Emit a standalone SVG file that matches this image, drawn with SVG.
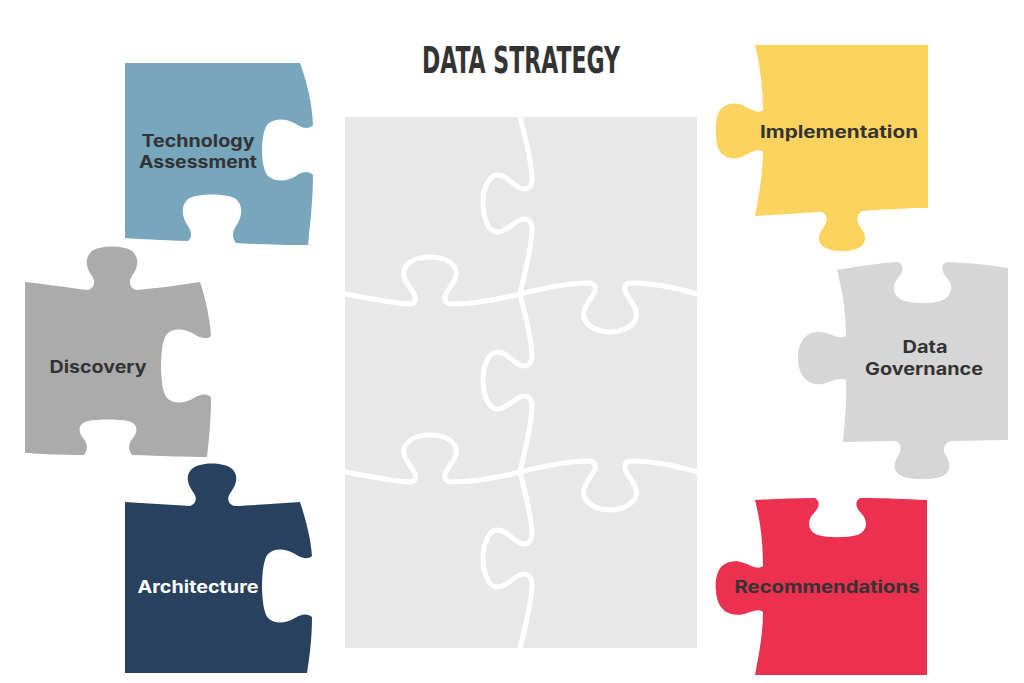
<svg xmlns="http://www.w3.org/2000/svg" width="1024" height="683" viewBox="0 0 1024 683">
<style>
.lbl{font-family:Inter,"Noto Sans","Liberation Sans",sans-serif;font-weight:700;font-size:17px;fill:#333;text-anchor:middle}
.cut{fill:none;stroke:#ffffff;stroke-width:5;stroke-linecap:round;stroke-linejoin:round}
</style>
<rect width="1024" height="683" fill="#ffffff"/>
<text x="521" y="73" font-family="'DejaVu Sans Condensed','Liberation Sans',sans-serif" font-weight="700" font-size="38" fill="#333" text-anchor="middle" textLength="198" lengthAdjust="spacingAndGlyphs">DATA STRATEGY</text>

<g id="board">
<rect x="345" y="117" width="352" height="531" fill="#e8e8e8"/>
</g>
<g id="connectors">
<path class="cut" d="M520,117 C525,137 532,162 532,179 C532,187 526,192 518,187 C510,182 506,175 497,175 C487,176 483,192 483,203 C483,214 487,232 497,232 C506,232 510,225 518,221 C526,216 532,221 532,229 C532,247 525,272 520,294 C525,314 532,339 532,356 C532,364 526,369 518,364 C510,359 506,352 497,352 C487,353 483,369 483,380 C483,391 487,409 497,409 C506,409 510,402 518,398 C526,393 532,398 532,406 C532,424 525,449 520,472 C525,492 532,517 532,534 C532,542 526,547 518,542 C510,537 506,530 497,530 C487,531 483,547 483,558 C483,569 487,587 497,587 C506,587 510,580 518,576 C526,571 532,576 532,584 C532,602 525,627 520,648"/>
<path class="cut" d="M345,294 C370,298 395,304 410,304 C416,304 417,298 413,292 C408,284 402,278 404,270 C408,260 420,257 430,257 C440,257 452,260 456,270 C458,278 452,284 447,292 C443,298 444,304 452,304 C475,304 500,299 520,294 C540,289 565,283 588,283 C596,283 597,289 593,295 C588,303 582,310 584,318 C588,328 600,332 610,332 C620,332 632,328 636,318 C638,310 632,303 627,295 C623,289 624,283 632,283 C655,283 680,289 697,294"/>
<path class="cut" d="M345,472 C370,476 395,482 410,482 C416,482 417,476 413,470 C408,462 402,456 404,448 C408,438 420,435 430,435 C440,435 452,438 456,448 C458,456 452,462 447,470 C443,476 444,482 452,482 C475,482 500,477 520,472 C540,467 565,461 588,461 C596,461 597,467 593,473 C588,481 582,488 584,496 C588,506 600,510 610,510 C620,510 632,506 636,496 C638,488 632,481 627,473 C623,467 624,461 632,461 C655,461 680,467 697,472"/>
</g>

<g id="technology-assessment">
<path fill="#78a6bd" d="M125,63 L300,63 C306,80 312,100 313,125 C308,130 302,128 296,124 C288,119 276,117 268,124 C260,132 260,168 268,176 C276,183 288,181 296,176 C302,172 308,170 313,175 C313,200 310,225 308,245 C280,245 250,244 236,243 C232,238 232,232 236,226 C242,218 244,206 236,199 C228,193 196,193 188,199 C180,206 182,218 188,226 C192,232 192,238 188,241 C160,240 140,239 125,238 Z"/>
<text class="lbl" x="198" y="147" textLength="113" lengthAdjust="spacingAndGlyphs">Technology</text>
<text class="lbl" x="198" y="168" textLength="118" lengthAdjust="spacingAndGlyphs">Assessment</text>
</g>

<g id="discovery">
<path fill="#ababab" d="M25,282 C45,284 70,288 88,290 C94,288 96,282 92,276 C86,268 84,258 92,251 C100,245 124,245 132,251 C140,258 138,268 132,276 C128,282 130,288 136,290 C160,288 180,285 200,282 C206,300 210,320 211,336 C206,340 200,338 194,334 C186,329 174,327 167,334 C159,342 159,390 167,398 C174,405 186,403 194,398 C200,394 206,393 211,397 C211,420 209,440 207,457 C190,457 160,456 132,455 C128,450 128,444 133,438 C139,430 137,423 128,421 C118,419 98,419 88,421 C79,423 77,430 83,438 C88,444 88,450 84,455 C60,455 40,454 25,453 Z"/>
<text class="lbl" x="98" y="373" textLength="97" lengthAdjust="spacingAndGlyphs">Discovery</text>
</g>

<g id="architecture">
<path fill="#27415f" d="M125,502 C145,503 170,505 190,506 C196,504 198,498 193,492 C187,484 185,474 193,468 C201,462 223,462 231,468 C239,474 237,484 231,492 C226,498 228,504 234,506 C260,505 280,503 300,502 C306,520 311,540 312,556 C307,560 301,558 295,554 C287,549 275,547 268,554 C260,562 260,610 268,618 C275,625 287,623 295,618 C301,614 307,613 312,617 C312,640 309,660 307,673 L125,673 Z"/>
<text class="lbl" x="198" y="593" fill="#ffffff" style="fill:#ffffff" textLength="121" lengthAdjust="spacingAndGlyphs">Architecture</text>
</g>

<g id="implementation">
<path fill="#fdd35f" d="M755,45 L928,45 L928,208 C905,208 880,210 862,211 C856,215 856,221 861,228 C868,237 866,246 856,249 C848,252 836,252 828,249 C818,246 816,237 823,228 C828,221 828,215 822,212 C800,213 775,215 755,216 C760,190 763,170 763,152 C758,148 752,152 744,156 C734,161 722,158 718,148 C715,140 715,122 718,114 C722,104 734,101 744,106 C752,110 758,114 763,110 C763,90 760,65 755,45 Z"/>
<text class="lbl" x="839" y="138" textLength="158" lengthAdjust="spacingAndGlyphs">Implementation</text>
</g>

<g id="data-governance">
<path fill="#d6d6d6" d="M837,270 C860,266 880,263 898,262 C904,265 904,271 898,278 C890,287 894,298 905,301 C915,304 930,304 940,301 C951,298 955,287 947,278 C941,271 941,265 946,262 C970,263 990,265 1008,268 L1008,440 C990,440 965,441 950,441 C944,444 942,450 946,456 C952,465 950,474 940,477 C930,480 914,480 904,477 C894,474 892,465 898,456 C902,450 902,444 896,441 C875,441 860,442 843,442 C845,420 847,400 846,380 C840,376 832,382 822,384 C808,386 798,376 798,358 C798,340 808,330 822,332 C832,334 840,340 846,336 C846,310 842,290 837,270 Z"/>
<text class="lbl" x="925" y="353" textLength="45" lengthAdjust="spacingAndGlyphs">Data</text>
<text class="lbl" x="924" y="375" textLength="118" lengthAdjust="spacingAndGlyphs">Governance</text>
</g>

<g id="recommendations">
<path fill="#ec3050" d="M755,500 C775,499 795,498 815,498 C820,501 820,507 814,513 C806,521 808,532 818,535 C828,538 847,538 857,535 C867,532 869,521 861,513 C855,507 855,501 860,498 C885,498 905,499 927,500 L927,675 L755,675 C760,650 763,630 763,612 C758,608 752,612 744,614 C732,617 720,612 717,598 C715,588 715,580 718,572 C722,562 734,559 744,563 C752,566 758,570 763,566 C763,540 760,520 755,500 Z"/>
<text class="lbl" x="827" y="593" textLength="185" lengthAdjust="spacingAndGlyphs">Recommendations</text>
</g>
</svg>
